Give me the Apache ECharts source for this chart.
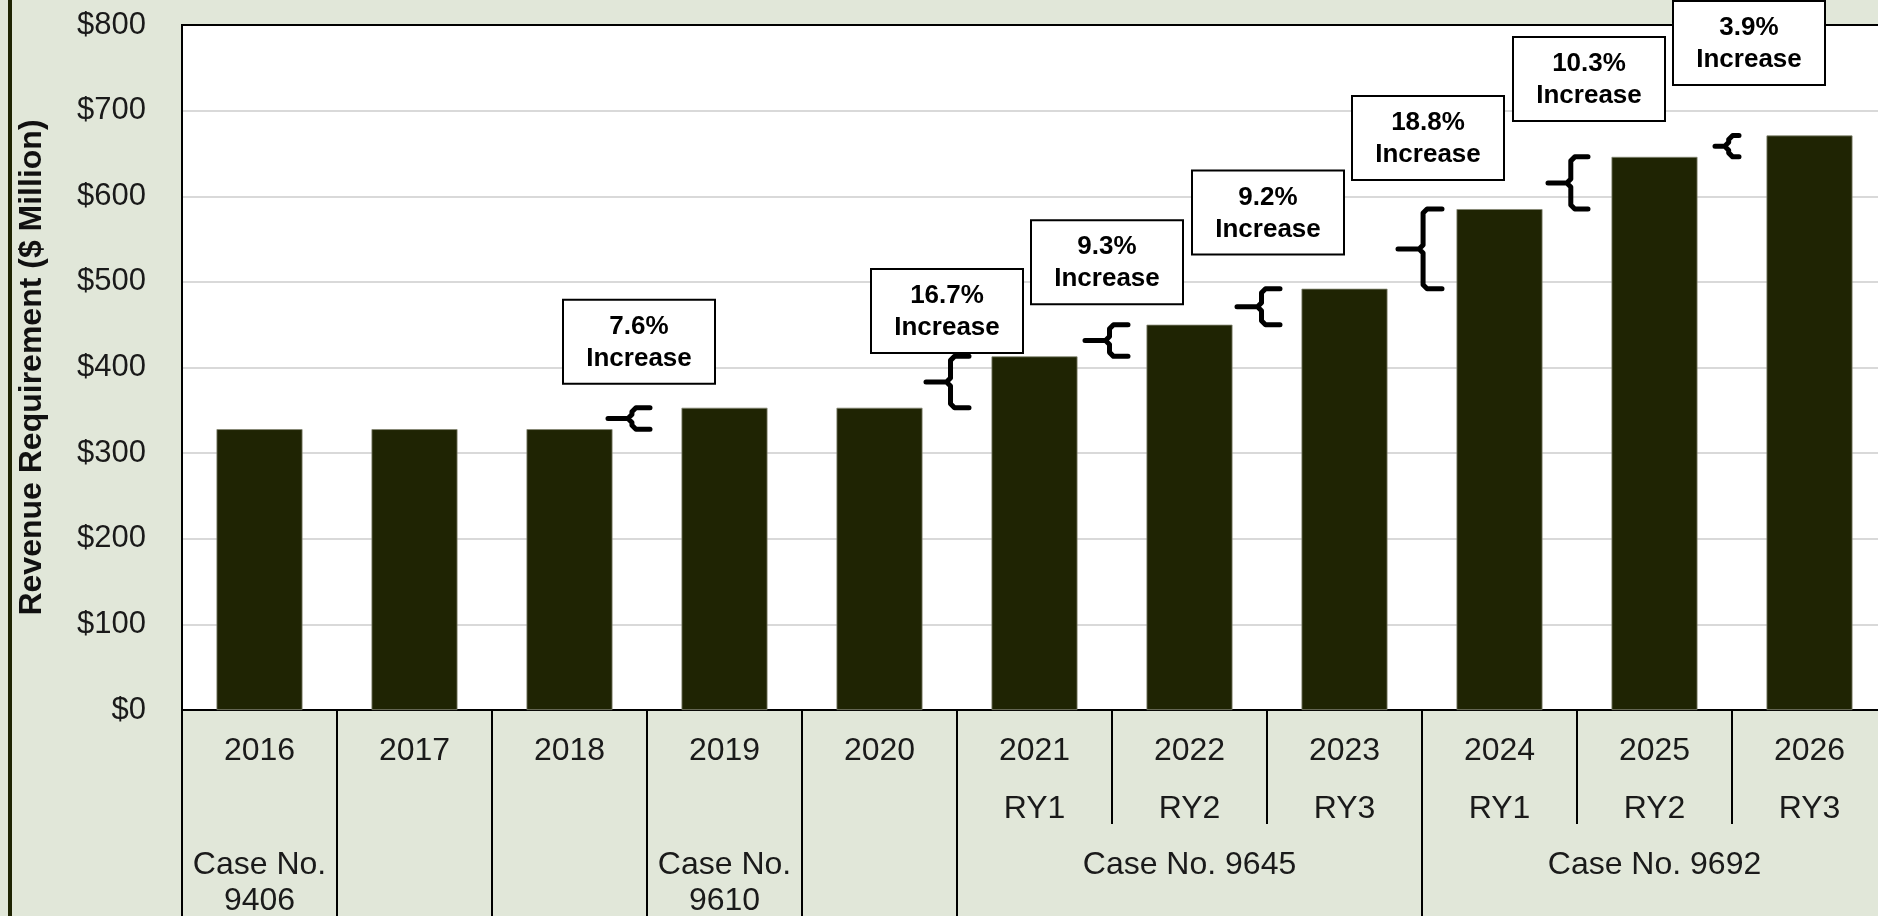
<!DOCTYPE html>
<html>
<head>
<meta charset="utf-8">
<script src="https://cdn.jsdelivr.net/npm/echarts@6/dist/echarts.min.js"></script>
<style>
  html, body { margin: 0; padding: 0; background: #e1e7d9; }
  #chart { width: 1878px; height: 916px; }
</style>
</head>
<body>
<div id="chart"></div>
<script>
// ---- data ----
const years = ['2016','2017','2018','2019','2020','2021','2022','2023','2024','2025','2026'];
const ratePeriods = ['','','','','','RY1','RY2','RY3','RY1','RY2','RY3'];
const caseLabels = ['Case No.\n9406','','','Case No.\n9610','','','Case No. 9645','','','Case No. 9692',''];
const revenue = [328, 328, 328, 353, 353, 413, 450, 492, 585, 646, 671];
const yTicks = [0, 100, 200, 300, 400, 500, 600, 700, 800];
const increaseAfter = [2, 4, 5, 6, 7, 8, 9];           // index of the year before each step-up
const increaseText = ['7.6%', '16.7%', '9.3%', '9.2%', '18.8%', '10.3%', '3.9%'];

// ---- annotation layout (placement of callout boxes / braces) ----
const boxLevels = [430, 466, 523, 581, 668, 737, 779];  // box centre, in axis units
const boxShift = [-8, -10, -5, 1, 6, 12, 17];          // px from category boundary
const braceTip = [-39, -31, -27, -30, -24, -29, -17];
const braceArm = [3, 12, 16, 13, 20, 11, 7];

const FONT = '"Liberation Sans", Arial, Helvetica, sans-serif';
const fullDividers = [0, 1, 2, 3, 4, 5, 8];
const shortDividers = [6, 7, 9, 10];

const annData = increaseAfter.map((k, j) => [k, revenue[k], revenue[k + 1], boxLevels[j]]);

const chart = echarts.init(document.getElementById('chart'));
chart.setOption({
  backgroundColor: '#e1e7d9',
  animation: false,
  grid: {
    left: 182, right: -9, top: 25, bottom: 206,
    show: true, backgroundColor: '#ffffff', borderColor: '#000000', borderWidth: 2,
    containLabel: false, outerBoundsMode: 'none'
  },
  graphic: [
    { type: 'rect', left: 8, top: 0, shape: { width: 4, height: 916 }, style: { fill: '#1f2403' }, z: 100 }
  ],
  xAxis: [
    {
      type: 'category', data: years, position: 'bottom',
      axisLine: { show: true, lineStyle: { color: '#000', width: 2 } },
      axisTick: {
        show: true, length: 206, inside: false,
        interval: (idx) => fullDividers.indexOf(idx) >= 0,
        lineStyle: { color: '#000', width: 2 }
      },
      axisLabel: {
        interval: 0, margin: 12, color: '#1a1a1a', fontFamily: FONT, fontSize: 32,
        formatter: (value, idx) => {
          let s = '{y|' + value + '}\n{r|' + (ratePeriods[idx] || ' ') + '}';
          const c = caseLabels[idx];
          if (c) {
            const lines = c.split('\n');
            s += '\n{c|' + lines[0] + '}';
            if (lines[1]) s += '\n{d|' + lines[1] + '}';
          }
          return s;
        },
        rich: {
          y: { fontFamily: FONT, fontSize: 32, lineHeight: 58, color: '#1a1a1a' },
          r: { fontFamily: FONT, fontSize: 32, lineHeight: 58, color: '#1a1a1a' },
          c: { fontFamily: FONT, fontSize: 32, lineHeight: 54, color: '#1a1a1a' },
          d: { fontFamily: FONT, fontSize: 32, lineHeight: 18, color: '#1a1a1a' }
        }
      },
      splitLine: { show: false }
    },
    {
      type: 'category', data: years, position: 'bottom',
      axisLine: { show: false },
      axisLabel: { show: false },
      axisTick: {
        show: true, length: 114, inside: false,
        interval: (idx) => shortDividers.indexOf(idx) >= 0,
        lineStyle: { color: '#000', width: 2 }
      },
      splitLine: { show: false }
    },
    {
      type: 'category', data: years, position: 'top',
      axisLine: { show: true, lineStyle: { color: '#000', width: 2 } },
      axisLabel: { show: false },
      axisTick: { show: false },
      splitLine: { show: false }
    }
  ],
  yAxis: {
    type: 'value', min: yTicks[0], max: yTicks[yTicks.length - 1], interval: 100,
    name: 'Revenue Requirement ($ Million)', nameLocation: 'middle', nameGap: 134,
    nameTextStyle: { fontFamily: FONT, fontSize: 32, fontWeight: 'bold', color: '#111' },
    axisLine: { show: true, lineStyle: { color: '#000', width: 2 } },
    axisTick: { show: false },
    axisLabel: { margin: 36, color: '#1a1a1a', fontFamily: FONT, fontSize: 31, formatter: (v) => '$' + v },
    splitLine: { show: true, lineStyle: { color: '#d9d9d9', width: 2 } }
  },
  series: [
    {
      type: 'bar', data: revenue, barWidth: 86, xAxisIndex: 0,
      itemStyle: { color: '#1f2403', borderColor: '#858873', borderWidth: 0.8 },
      z: 2
    },
    {
      type: 'custom', xAxisIndex: 0, data: annData, z: 10, clip: false,
      renderItem: (params, api) => {
        const j = params.dataIndex;
        const k = api.value(0);
        const pL = api.coord([k, api.value(1)]);
        const pR = api.coord([k + 1, api.value(2)]);
        const bx = (pL[0] + pR[0]) / 2;
        const yBot = pL[1], yTop = pR[1];
        const ym = (yTop + yBot) / 2;
        const xt = bx + braceTip[j], xa = bx + braceArm[j];
        const xs = xa - (xa - xt) * 0.43;
        const r = 4;
        const pts = [
          [xa, yTop], [xs + r, yTop], [xs, yTop + r], [xs, ym - r], [xs - r, ym], [xt, ym],
          [xs - r, ym], [xs, ym + r], [xs, yBot - r], [xs + r, yBot], [xa, yBot]
        ];
        const cy = api.coord([k, api.value(3)])[1];
        const cx = bx + boxShift[j];
        const bw = 152, bh = 84;
        return {
          type: 'group',
          children: [
            { type: 'polyline', shape: { points: pts },
              style: { stroke: '#000', lineWidth: 5, fill: null, lineJoin: 'round', lineCap: 'round' } },
            { type: 'rect', shape: { x: cx - bw / 2, y: cy - bh / 2, width: bw, height: bh },
              style: { fill: '#fff', stroke: '#000', lineWidth: 2 } },
            { type: 'text', style: { text: increaseText[j], x: cx, y: cy - 15, align: 'center', verticalAlign: 'middle',
              font: 'bold 26px ' + FONT, fill: '#000' } },
            { type: 'text', style: { text: 'Increase', x: cx, y: cy + 17, align: 'center', verticalAlign: 'middle',
              font: 'bold 26px ' + FONT, fill: '#000' } }
          ]
        };
      }
    }
  ]
});
</script>
</body>
</html>
